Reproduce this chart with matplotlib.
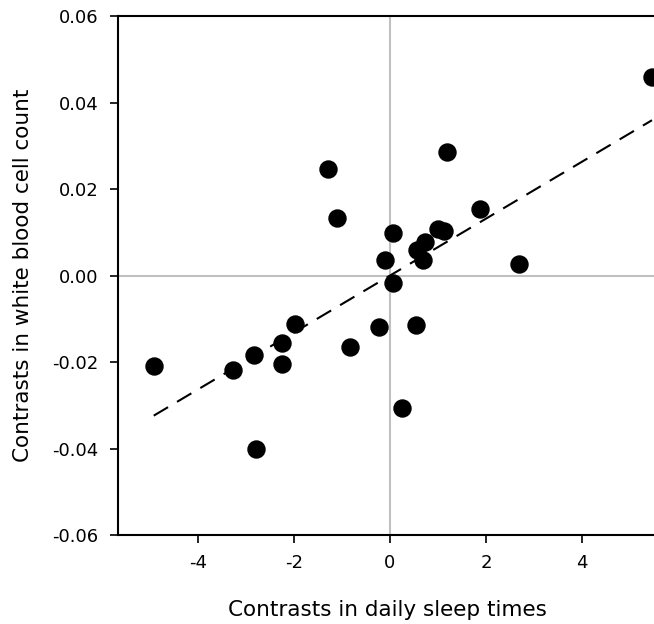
import numpy as np
import matplotlib
matplotlib.use("Agg")
import matplotlib.pyplot as plt

plt.rcParams['font.family'] = ['DejaVu Sans']
plt.rcParams['axes.unicode_minus'] = False

# contrasts
sleep_contrast = [-4.92, -3.26, -2.84, -2.78, -2.24, -2.24, -1.97, -1.28, -1.11,
                  -0.84, -0.23, -0.10, 0.06, 0.06, 0.25, 0.54, 0.56, 0.68,
                  0.73, 1.00, 1.13, 1.19, 1.88, 2.68, 5.46]
wbc_contrast = [-0.0209, -0.0218, -0.0184, -0.0401, -0.0155, -0.0204, -0.0111, 0.0246, 0.0134,
                -0.0165, -0.0118, 0.0037, 0.0098, -0.0018, -0.0306, -0.0114, 0.0060, 0.0035,
                0.0077, 0.0107, 0.0103, 0.0286, 0.0153, 0.0026, 0.0460]

x = np.array(sleep_contrast)
y = np.array(wbc_contrast)

# regression through the origin
slope = np.sum(x * y) / np.sum(x * x)

fig = plt.figure(figsize=(6.54, 6.24), dpi=100)
ax = fig.add_axes([0.180, 0.1426, 0.825, 0.8314])

ax.axhline(0, color='#c0c0c0', lw=1.5, zorder=1)
ax.axvline(0, color='#c0c0c0', lw=1.5, zorder=1)

xl = np.array([x.min(), x.max()])
ax.plot(xl, slope * xl, color='black', lw=1.5, dashes=(8, 5), zorder=2)

ax.scatter(x, y, s=150, color='black', zorder=3)

ax.set_xlim(-5.67, 5.57)
ax.set_ylim(-0.06, 0.06)
ax.set_xticks([-4, -2, 0, 2, 4])
ax.set_yticks([-0.06, -0.04, -0.02, 0.00, 0.02, 0.04, 0.06])
ax.set_yticklabels(['-0.06', '-0.04', '-0.02', '0.00', '0.02', '0.04', '0.06'])

ax.spines['right'].set_visible(False)
for s in ['left', 'bottom', 'top']:
    ax.spines[s].set_linewidth(1.5)
ax.tick_params(direction='out', length=6, width=1.2, labelsize=13, pad=8)

ax.set_xlabel('Contrasts in daily sleep times', fontsize=15.5, labelpad=20)
ax.set_ylabel('Contrasts in white blood cell count', fontsize=15.5, labelpad=14)

fig.savefig('out.png', dpi=100)
